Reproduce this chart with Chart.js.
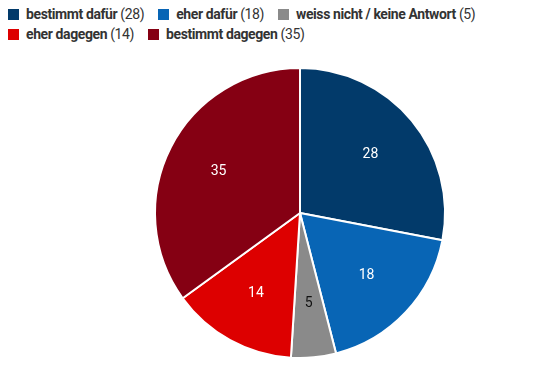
<!DOCTYPE html>
<html>
<head>
<meta charset="utf-8">
<script src="https://cdn.jsdelivr.net/npm/chart.js@4"></script>
<style>
  body { margin: 0; background: #fff; width: 540px; height: 365px; overflow: hidden; font-family: Roboto, sans-serif; }
  #legend { position: absolute; left: 8px; top: 4px; width: 530px; font-size: 14px; color: #333; line-height: 20px; letter-spacing: -0.4px; }
  #legend span.item { display: inline-block; margin-right: 14px; white-space: nowrap; }
  #legend span.box { display: inline-block; width: 11px; height: 11px; margin-right: 7px; vertical-align: -1px; }
  #legend b { font-weight: 700; }
  #wrap { position: absolute; left: 0; top: 60px; width: 540px; height: 306px; }
</style>
</head>
<body>
<div id="legend"></div>
<div id="wrap"><canvas id="pie"></canvas></div>
<script>
// Umfrage: Zustimmung
const categories = ['bestimmt dafür', 'eher dafür', 'weiss nicht / keine Antwort', 'eher dagegen', 'bestimmt dagegen'];
const values = [28, 18, 5, 14, 35];
const colors = ['#023a6a', '#0865b5', '#8a8a8a', '#dd0000', '#850013'];
const labelColors = ['#fff', '#fff', '#111', '#fff', '#fff'];

// HTML legend (bold label + value in brackets)
const legend = document.getElementById('legend');
categories.forEach((c, i) => {
    const item = document.createElement('span');
    item.className = 'item';
    item.innerHTML = `<span class="box" style="background:${colors[i]}"></span><b>${c}</b> (${values[i]})`;
    legend.appendChild(item);
    if (i === 2) legend.appendChild(document.createElement('br'));
});

// draw the values inside each slice
const sliceLabels = {
    id: 'sliceLabels',
    afterDatasetsDraw(chart) {
        const ctx = chart.ctx;
        const meta = chart.getDatasetMeta(0);
        ctx.save();
        ctx.font = '14px Roboto, sans-serif';
        ctx.textAlign = 'center';
        ctx.textBaseline = 'middle';
        meta.data.forEach((arc, i) => {
            const mid = (arc.startAngle + arc.endAngle) / 2;
            const r = arc.outerRadius * 0.63;
            ctx.fillStyle = labelColors[i];
            ctx.fillText(values[i], arc.x + Math.cos(mid) * r, arc.y + Math.sin(mid) * r);
        });
        ctx.restore();
    }
};

new Chart(document.getElementById('pie'), {
    type: 'pie',
    data: {
        labels: categories,
        datasets: [{
            data: values,
            backgroundColor: colors,
            borderColor: '#fff',
            borderWidth: 2
        }]
    },
    options: {
        responsive: true,
        maintainAspectRatio: false,
        animation: false,
        layout: { padding: { left: 60, top: 7, bottom: 7 } },
        plugins: {
            legend: { display: false },
            tooltip: { enabled: false }
        }
    },
    plugins: [sliceLabels]
});
</script>
</body>
</html>
